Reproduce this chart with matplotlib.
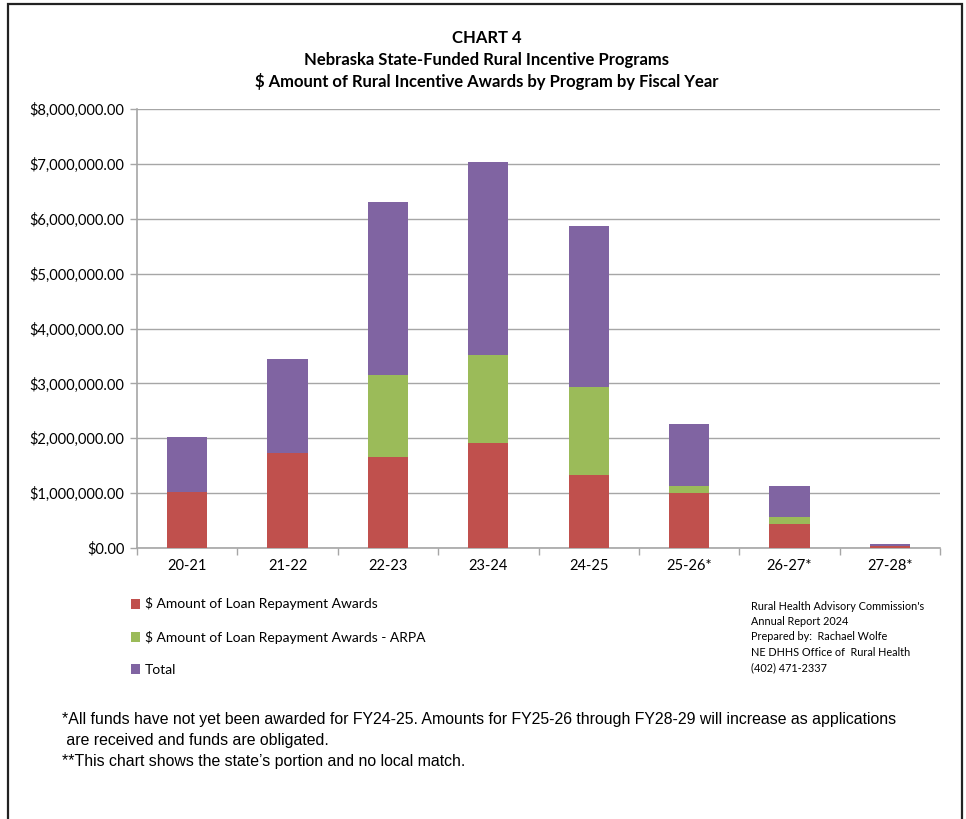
import matplotlib
matplotlib.use("Agg")
import matplotlib.pyplot as plt
import numpy as np
from matplotlib.patches import Patch, Rectangle
from matplotlib.ticker import FuncFormatter, MultipleLocator

plt.rcParams["font.family"] = ["Lato", "DejaVu Sans"]

# Años fiscales y montos (USD)
anios = ["20-21", "21-22", "22-23", "23-24", "24-25", "25-26*", "26-27*", "27-28*"]
prestamos = [1015000, 1725000, 1660000, 1910000, 1330000, 1010000, 440000, 35000]
prestamos_arpa = [0, 0, 1490000, 1605000, 1605000, 120000, 125000, 0]
total = [1015000, 1725000, 3150000, 3515000, 2935000, 1130000, 565000, 35000]

ROJO = "#C0504D"
VERDE = "#9BBB59"
MORADO = "#8064A2"
GRIS = "#A6A6A6"

fig = plt.figure(figsize=(9.66, 8.19), dpi=100)

# Marco negro alrededor del gráfico
fig.add_artist(Rectangle((8 / 966, -0.01), (962 - 8) / 966, 1 - 4 / 819 + 0.01,
                         transform=fig.transFigure, fill=False,
                         edgecolor="#222222", linewidth=1.6))

ax = fig.add_axes([137 / 966, 1 - 548 / 819, (940 - 137) / 966, (548 - 109) / 819])

x = np.arange(len(anios))
ancho = 0.4
base_verde = np.array(prestamos)
base_total = base_verde + np.array(prestamos_arpa)

ax.bar(x, prestamos, width=ancho, color=ROJO, zorder=3)
ax.bar(x, prestamos_arpa, width=ancho, bottom=base_verde, color=VERDE, zorder=3)
ax.bar(x, total, width=ancho, bottom=base_total, color=MORADO, zorder=3)

ax.set_xlim(-0.5, len(anios) - 0.5)
ax.set_ylim(0, 8000000)
ax.yaxis.set_major_locator(MultipleLocator(1000000))
ax.yaxis.set_major_formatter(FuncFormatter(lambda v, p: f"${v:,.2f}"))
ax.grid(axis="y", color=GRIS, linewidth=1.0, zorder=0)

ax.set_xticks(x)
ax.set_xticklabels(anios, fontsize=10.5)
ax.set_xticks(np.arange(-0.5, len(anios) + 0.5, 1), minor=True)
ax.tick_params(axis="x", which="major", length=0, pad=8)
ax.tick_params(axis="x", which="minor", length=5, color=GRIS, width=1)
ax.tick_params(axis="y", length=5, color=GRIS, width=1, labelsize=10.5, pad=4)

for lado in ["top", "right"]:
    ax.spines[lado].set_visible(False)
ax.spines["left"].set_color(GRIS)
ax.spines["bottom"].set_color(GRIS)
ax.spines["left"].set_linewidth(1.2)
ax.spines["bottom"].set_linewidth(1.2)

# Título
titulo = ["CHART 4",
          "Nebraska State-Funded Rural Incentive Programs",
          "$ Amount of Rural Incentive Awards by Program by Fiscal Year"]
for i, linea in enumerate(titulo):
    fig.text(487 / 966, 1 - (38 + i * 21.5) / 819, linea, ha="center", va="center",
             fontsize=12, fontweight="bold")

# Leyenda
ax.legend(
    handles=[
        Patch(facecolor=ROJO, label="$ Amount of Loan Repayment Awards"),
        Patch(facecolor=VERDE, label="$ Amount of Loan Repayment Awards - ARPA"),
        Patch(facecolor=MORADO, label="Total"),
    ],
    loc="upper left",
    bbox_to_anchor=(118 / 966, 1 - 585 / 819),
    bbox_transform=fig.transFigure,
    frameon=False,
    fontsize=10,
    handlelength=0.7,
    handleheight=0.7,
    handletextpad=0.35,
    labelspacing=1.45,
)

# Nota de la fuente
nota = ("Rural Health Advisory Commission's\n"
        "Annual Report 2024\n"
        "Prepared by:  Rachael Wolfe\n"
        "NE DHHS Office of  Rural Health\n"
        "(402) 471-2337")
fig.text(751 / 966, 1 - 601 / 819, nota, ha="left", va="top", fontsize=7.8,
         linespacing=1.47)

# Notas al pie
pie = ("*All funds have not yet been awarded for FY24-25. Amounts for FY25-26 through FY28-29 will increase as applications\n"
       " are received and funds are obligated.\n"
       "**This chart shows the state\u2019s portion and no local match.")
fig.text(62 / 966, 1 - 712 / 819, pie, ha="left", va="top", fontsize=11.4,
         linespacing=1.5, family=["Liberation Sans", "DejaVu Sans"])

fig.savefig("out.png", dpi=100)
